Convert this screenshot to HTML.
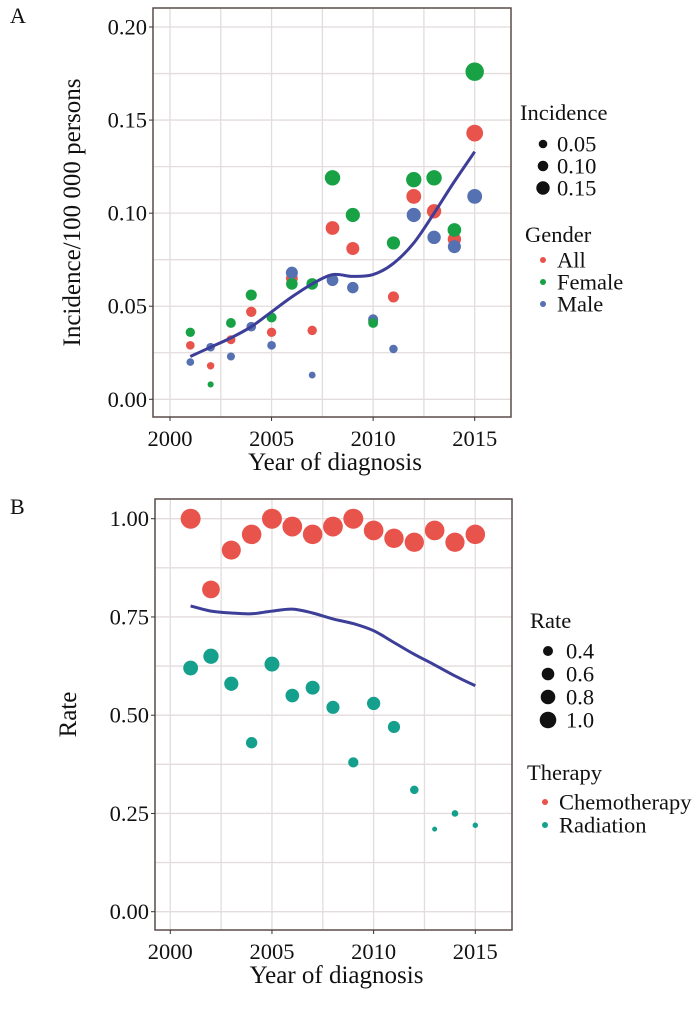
<!DOCTYPE html>
<html><head><meta charset="utf-8">
<style>
html,body{margin:0;padding:0;background:#fff;}
svg{display:block;font-family:"Liberation Serif",serif;}
</style></head>
<body>
<svg id="chart" width="700" height="1029" viewBox="0 0 700 1029"></svg>
<script>
const years = [2001,2002,2003,2004,2005,2006,2007,2008,2009,2010,2011,2012,2013,2014,2015];
const incAll = [0.029,0.018,0.032,0.047,0.036,0.065,0.037,0.092,0.081,0.042,0.055,0.109,0.101,0.086,0.143];
const incFemale = [0.036,0.008,0.041,0.056,0.044,0.062,0.062,0.119,0.099,0.041,0.084,0.118,0.119,0.091,0.176];
const incMale = [0.020,0.028,0.023,0.039,0.029,0.068,0.013,0.064,0.060,0.043,0.027,0.099,0.087,0.082,0.109];
const smoothA = [0.023,0.028,0.033,0.039,0.047,0.055,0.062,0.067,0.066,0.067,0.073,0.084,0.100,0.117,0.133];
const rateChemo = [1.00,0.82,0.92,0.96,1.00,0.98,0.96,0.98,1.00,0.97,0.95,0.94,0.97,0.94,0.96];
const rateRadiation = [0.62,0.65,0.58,0.43,0.63,0.55,0.57,0.52,0.38,0.53,0.47,0.31,0.21,0.25,0.22];
const smoothB = [0.778,0.765,0.760,0.758,0.765,0.770,0.760,0.745,0.733,0.715,0.685,0.655,0.628,0.600,0.575];
const xTicks = [2000,2005,2010,2015];
const yTicksA = ["0.00","0.05","0.10","0.15","0.20"];
const yTicksB = ["0.00","0.25","0.50","0.75","1.00"];
const legendInc = [0.05,0.10,0.15];
const legendRate = [0.4,0.6,0.8,1.0];

const NS="http://www.w3.org/2000/svg";
const svg=document.getElementById('chart');
function mk(tag,attrs,parent,text){const e=document.createElementNS(NS,tag);for(const k in attrs)e.setAttribute(k,attrs[k]);if(text!==undefined)e.textContent=text;(parent||svg).appendChild(e);return e;}

const C={red:"#e8534b",green:"#18a245",blue:"#5571b2",teal:"#14a08c",line:"#3c3e98",grid:"#e3dcdc",border:"#5a4c48"};

function smoothPath(pts){
  let d='M'+pts[0][0].toFixed(1)+','+pts[0][1].toFixed(1);
  for(let i=0;i<pts.length-1;i++){
    const p0=pts[Math.max(0,i-1)],p1=pts[i],p2=pts[i+1],p3=pts[Math.min(pts.length-1,i+2)];
    const c1=[p1[0]+(p2[0]-p0[0])/6,p1[1]+(p2[1]-p0[1])/6];
    const c2=[p2[0]-(p3[0]-p1[0])/6,p2[1]-(p3[1]-p1[1])/6];
    d+='C'+c1[0].toFixed(1)+','+c1[1].toFixed(1)+' '+c2[0].toFixed(1)+','+c2[1].toFixed(1)+' '+p2[0].toFixed(1)+','+p2[1].toFixed(1);
  }
  return d;
}

function panel(cfg){
  const g=mk('g',{});
  
  
  const xs=v=>cfg.x0+(v-2000)*(cfg.x15-cfg.x0)/15;
  const ys=v=>cfg.y0+(v-0)*(cfg.yTop-cfg.y0)/cfg.ymax;
  const grid=mk('g',{},g);
  
  
  for(let t=0;t<=cfg.ymax*1.0001+cfg.ystep/2;t+=cfg.ystep/2){
    const y=ys(t); if(y<cfg.top||y>cfg.bottom)continue;
    mk('line',{x1:cfg.left,x2:cfg.right,y1:y,y2:y,stroke:C.grid,'stroke-width':1.3},grid);
  }
  for(let t=2000;t<=2017;t+=2.5){
    const x=xs(t); if(x<cfg.left||x>cfg.right)continue;
    mk('line',{x1:x,x2:x,y1:cfg.top,y2:cfg.bottom,stroke:C.grid,'stroke-width':1.3},grid);
  }
  mk('rect',{x:cfg.left,y:cfg.top,width:cfg.right-cfg.left,height:cfg.bottom-cfg.top,fill:'none',stroke:C.border,'stroke-width':1.5},g);
  cfg.yTicks.forEach((lab,i)=>{
    const y=ys(parseFloat(lab));
    mk('line',{x1:cfg.left-4,x2:cfg.left,y1:y,y2:y,stroke:'#333'},g);
    const t=mk('text',{x:cfg.left-6,y:y+7.5,'text-anchor':'end','font-size':22.5,fill:'#111'},g,lab);
    
    
  });
  xTicks.forEach(v=>{
    const x=xs(v);
    mk('line',{x1:x,x2:x,y1:cfg.bottom,y2:cfg.bottom+4,stroke:'#333'},g);
    const t=mk('text',{x:x,y:cfg.bottom+29,'text-anchor':'middle','font-size':22.5,fill:'#111'},g,String(v));
    
    
  });
  const xt=mk('text',{x:(cfg.left+cfg.right)/2+3,y:cfg.bottom+53,'text-anchor':'middle','font-size':25,fill:'#111'},g,'Year of diagnosis');
  
  
  const yt=mk('text',{x:0,y:0,'text-anchor':'middle','font-size':25,fill:'#111',transform:`translate(${cfg.ytitleX},${(cfg.top+cfg.bottom)/2}) rotate(-90)`},g,cfg.ytitle);
  
  
  const pl=mk('text',{x:10,y:cfg.top+15,'font-size':22,fill:'#111'},g,cfg.label);
  
  
  cfg.series.forEach(s=>{
    const sg=mk('g',{},g);
    
    
    s.values.forEach((v,i)=>{
      const c=mk('circle',{cx:xs(years[i]),cy:ys(v),r:cfg.rad(v),fill:s.color},sg);
      
      
    });
  });
  const pts=cfg.smooth.map((v,i)=>[xs(years[i]),ys(v)]);
  const p=mk('path',{d:smoothPath(pts),fill:'none',stroke:C.line,'stroke-width':3,'stroke-linejoin':'round'},g);
  
  
  return g;
}

const radA=v=>Math.sqrt(Math.max(4,5.8+450*v));
const radB=v=>Math.sqrt(Math.max(4,-18.7+118.7*v));

panel({name:'panel-a-incidence',label:'A',left:153,right:511,top:8,bottom:417,x0:170,x15:474.7,y0:399.3,yTop:27,ymax:0.20,ystep:0.05,
  yTicks:yTicksA,ytitle:'Incidence/100 000 persons',ytitleX:80,rad:radA,smooth:smoothA,
  series:[{name:'all',values:incAll,color:C.red},{name:'male',values:incMale,color:C.blue},{name:'female',values:incFemale,color:C.green}]});
panel({name:'panel-b-rate',label:'B',left:155,right:512,top:499,bottom:930,x0:170.3,x15:475.3,y0:911.7,yTop:518.7,ymax:1.0,ystep:0.25,
  yTicks:yTicksB,ytitle:'Rate',ytitleX:76,rad:radB,smooth:smoothB,
  series:[{name:'chemotherapy',values:rateChemo,color:C.red},{name:'radiation',values:rateRadiation,color:C.teal}]});

function legend(name,x,title,titleY,items){
  const g=mk('g',{});
  
  
  mk('text',{x:x,y:titleY,'font-size':22.5,fill:'#111'},g,title);
  items.forEach(it=>{
    const e=mk('g',{},g);
    
    
    mk('circle',{cx:it.cx,cy:it.y,r:it.r,fill:it.color},e);
    mk('text',{x:it.tx,y:it.y+7.5,'font-size':22.5,fill:'#111'},e,it.label);
  });
}
legend('legend-incidence',520,'Incidence',120,legendInc.map((v,i)=>({cx:543,y:144+i*22,r:[4.3,5.3,6.7][i],color:'#111',tx:557,label:v.toFixed(2)})));
legend('legend-gender',525,'Gender',242,[['All',C.red],['Female',C.green],['Male',C.blue]].map((a,i)=>({cx:543,y:260+i*22,r:3,color:a[1],tx:557,label:a[0]})));
legend('legend-rate',530,'Rate',628,legendRate.map((v,i)=>({cx:548,y:651+i*23,r:[5,6.3,7.3,8.3][i],color:'#111',tx:566,label:v.toFixed(1)})));
legend('legend-therapy',527,'Therapy',780,[['Chemotherapy',C.red],['Radiation',C.teal]].map((a,i)=>({cx:545,y:802+i*23,r:3,color:a[1],tx:559,label:a[0]})));
</script>
</body></html>
